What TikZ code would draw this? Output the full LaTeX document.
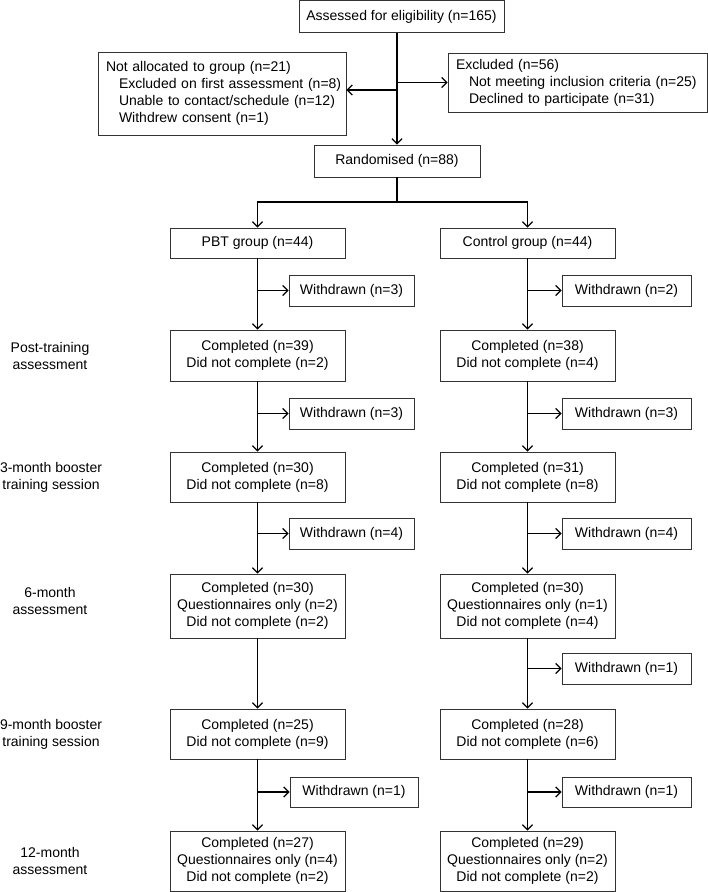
\documentclass[tikz,border=0pt]{standalone}
\usepackage{fontspec}
\setmainfont{Liberation Sans}
\usetikzlibrary{arrows.meta}
\tikzset{
	box/.style={draw=black!80, line width=0.8pt, inner sep=0pt, align=center, font=\fontsize{14}{17}\selectfont},
	listbox/.style={box, align=left, inner xsep=8pt},
	lab/.style={align=center, font=\fontsize{14}{17}\selectfont},
	conn/.style={line width=1.3pt},
	arr/.style={conn, -{Straight Barb[length=5pt,width=10pt]}},
}
\begin{document}
\begin{tikzpicture}[x=1pt,y=-1pt]
			\def \colA{257.5}
			\def \colB{527.5}
			\def \wdA{351.5}
			\def \wdB{626.5}
			\def \bw{175pt}
			\def \ind#1{\mbox{\hspace*{13pt}#1}}
			\useasboundingbox (0,0) rectangle (708,892);
			% enrolment
			\node[box, minimum width=205pt, minimum height=32pt] (assess) at (401.5,16.5) {Assessed for eligibility (n=165)};
			\node[listbox, text width=232pt, minimum height=83pt] (notalloc) at (222,93.5) {Not allocated to group (n=21)\\ \ind{Excluded on first assessment (n=8)}\\ \ind{Unable to contact/schedule (n=12)}\\ \ind{Withdrew consent (n=1)}};
			\node[listbox, text width=243pt, minimum height=59pt] (excl) at (577.5,82.5) {Excluded (n=56)\\ \ind{Not meeting inclusion criteria (n=25)}\\ \ind{Declined to participate (n=31)}};
			\node[box, minimum width=166pt, minimum height=32pt] (rand) at (397,161) {Randomised (n=88)};
			\coordinate (split) at (397,202);
			\coordinate (nl) at ([yshift=3.5pt]notalloc.east);
			\draw[arr] (assess.south -| rand.north) -- (rand.north);
			\draw[arr] (nl -| rand) -- (nl);
			\draw[arr] (excl.west -| rand) -- (excl.west);
			\draw[conn] (rand.south) -- (split);
			% groups
			\node[box, minimum width=\bw, minimum height=30pt] (pbt) at (\colA,243) {PBT group (n=44)};
			\node[box, minimum width=\bw, minimum height=30pt] (ctrl) at (\colB,243) {Control group (n=44)};
			\draw[arr] (split) -| (pbt.north);
			\draw[arr] (split) -| (ctrl.north);
			% PBT column
			\node[box, minimum width=125pt, minimum height=31pt] (wA1) at (\wdA,290.5) {Withdrawn (n=3)};
			\node[box, minimum width=\bw, minimum height=51pt] (postA) at (\colA,355.5) {Completed (n=39)\\ Did not complete (n=2)};
			\node[box, minimum width=125pt, minimum height=31pt] (wA2) at (\wdA,413.5) {Withdrawn (n=3)};
			\node[box, minimum width=\bw, minimum height=50pt] (threeA) at (\colA,477) {Completed (n=30)\\ Did not complete (n=8)};
			\node[box, minimum width=125pt, minimum height=31pt] (wA3) at (\wdA,533.5) {Withdrawn (n=4)};
			\node[box, minimum width=\bw, minimum height=64pt] (sixA) at (\colA,606) {Completed (n=30)\\ Questionnaires only (n=2)\\ Did not complete (n=2)};
			\node[box, minimum width=\bw, minimum height=50pt] (nineA) at (\colA,734) {Completed (n=25)\\ Did not complete (n=9)};
			\node[box, minimum width=128pt, minimum height=30pt] (wA4) at (354,792) {Withdrawn (n=1)};
			\node[box, minimum width=\bw, minimum height=60pt] (twelveA) at (\colA,861) {Completed (n=27)\\ Questionnaires only (n=4)\\ Did not complete (n=2)};
			\draw[arr] (pbt.south) -- (postA.north);
			\draw[arr] (postA.south) -- (threeA.north);
			\draw[arr] (threeA.south) -- (sixA.north);
			\draw[arr] (sixA.south) -- (nineA.north);
			\draw[arr] (nineA.south) -- (twelveA.north);
			\draw[arr] (wA1.west -| pbt) -- (wA1.west);
			\draw[arr] (wA2.west -| pbt) -- (wA2.west);
			\draw[arr] (wA3.west -| pbt) -- (wA3.west);
			\draw[arr] (wA4.west -| pbt) -- (wA4.west);
			% control column
			\node[box, minimum width=129pt, minimum height=31pt] (wB1) at (\wdB,290.5) {Withdrawn (n=2)};
			\node[box, minimum width=\bw, minimum height=51pt] (postB) at (\colB,355.5) {Completed (n=38)\\ Did not complete (n=4)};
			\node[box, minimum width=129pt, minimum height=31pt] (wB2) at (\wdB,413.5) {Withdrawn (n=3)};
			\node[box, minimum width=\bw, minimum height=50pt] (threeB) at (\colB,477) {Completed (n=31)\\ Did not complete (n=8)};
			\node[box, minimum width=129pt, minimum height=31pt] (wB3) at (\wdB,533.5) {Withdrawn (n=4)};
			\node[box, minimum width=\bw, minimum height=64pt] (sixB) at (\colB,606) {Completed (n=30)\\ Questionnaires only (n=1)\\ Did not complete (n=4)};
			\node[box, minimum width=129pt, minimum height=31pt] (wB4) at (\wdB,668.5) {Withdrawn (n=1)};
			\node[box, minimum width=\bw, minimum height=50pt] (nineB) at (\colB,734) {Completed (n=28)\\ Did not complete (n=6)};
			\node[box, minimum width=129pt, minimum height=30pt] (wB5) at (\wdB,792) {Withdrawn (n=1)};
			\node[box, minimum width=\bw, minimum height=60pt] (twelveB) at (\colB,861) {Completed (n=29)\\ Questionnaires only (n=2)\\ Did not complete (n=2)};
			\draw[arr] (ctrl.south) -- (postB.north);
			\draw[arr] (postB.south) -- (threeB.north);
			\draw[arr] (threeB.south) -- (sixB.north);
			\draw[arr] (sixB.south) -- (nineB.north);
			\draw[arr] (nineB.south) -- (twelveB.north);
			\draw[arr] (wB1.west -| ctrl) -- (wB1.west);
			\draw[arr] (wB2.west -| ctrl) -- (wB2.west);
			\draw[arr] (wB3.west -| ctrl) -- (wB3.west);
			\draw[arr] (wB4.west -| ctrl) -- (wB4.west);
			\draw[arr] (wB5.west -| ctrl) -- (wB5.west);
			% time points
			\node[lab] (lpost) at (50,355.5) {Post-training\\ assessment};
			\node[lab] (lthree) at (51,477) {3-month booster\\ training session};
			\node[lab] (lsix) at (50,601) {6-month\\ assessment};
			\node[lab] (lnine) at (51,734) {9-month booster\\ training session};
			\node[lab] (ltwelve) at (50,861) {12-month\\ assessment};
		\end{tikzpicture}
\end{document}
